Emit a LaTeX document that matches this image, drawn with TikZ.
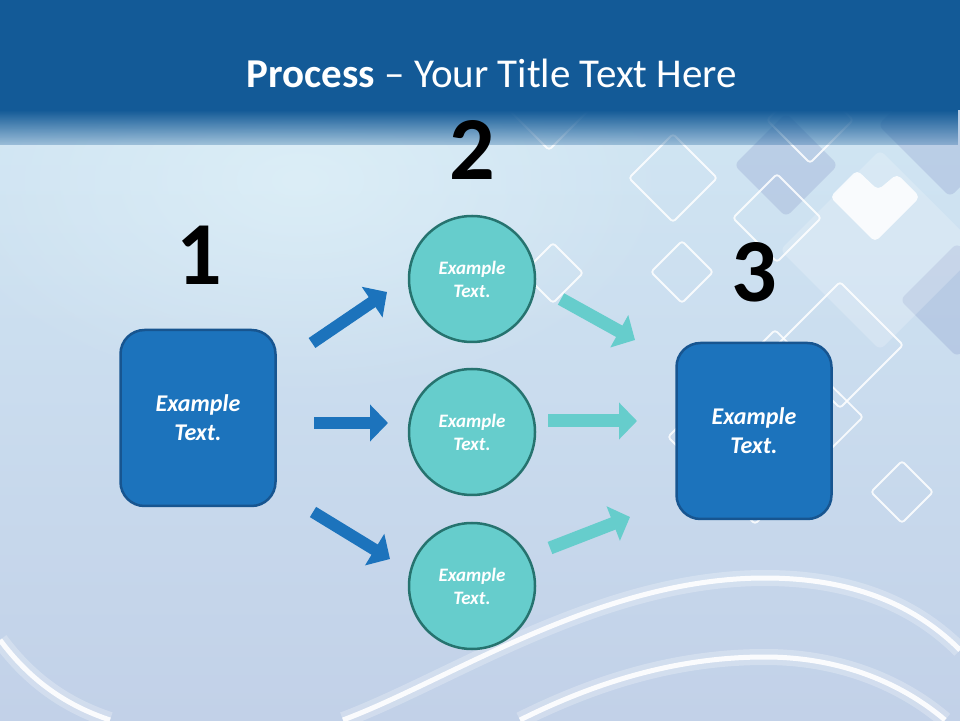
\documentclass[tikz,border=0pt]{standalone}
\usepackage{fontspec}
\setmainfont{Carlito}
\usetikzlibrary{arrows.meta,fadings}

\definecolor{titleblue}{HTML}{135A97}
\definecolor{boxblue}{HTML}{1C73BC}
\definecolor{boxedge}{HTML}{175590}
\definecolor{circfill}{HTML}{66CDCC}
\definecolor{circedge}{HTML}{26736F}
\definecolor{bgtop}{HTML}{D3E9F5}
\definecolor{bgbot}{HTML}{C2D1E8}
\definecolor{glowcol}{HTML}{E4F5FA}
\definecolor{tilecol}{HTML}{8C9DCB}

\tikzfading[name=titlefade, top color=transparent!0, bottom color=transparent!72]
\tikzfading[name=glowfade, inner color=transparent!40, outer color=transparent!100]

\tikzset{
  procbox/.style={draw=boxedge, line width=2.5pt, fill=boxblue, rounded corners=24pt,
    minimum width=155pt, minimum height=176pt, text=white, align=center,
    font=\bfseries\itshape\fontsize{24}{29}\selectfont},
  proccircle/.style={circle, draw=circedge, line width=2.5pt, fill=circfill,
    minimum size=126pt, text=white, align=center,
    font=\bfseries\itshape\fontsize{19}{23}\selectfont},
  stepnum/.style={anchor=base, inner sep=0pt, font=\bfseries\fontsize{90}{90}\selectfont},
  bluearrow/.style={line width=12pt, draw=boxblue, -{Triangle[length=18pt,width=36pt]}},
  tealarrow/.style={line width=13pt, draw=circfill, -{Triangle[length=18pt,width=36pt]}},
  ring/.style={draw=white, line width=1.8pt, rounded corners=3pt, opacity=0.85},
  tile/.style={fill=tilecol, opacity=0.3, rounded corners=6pt},
  wave/.style={draw=white, line width=5pt, opacity=0.9},
  waveglow/.style={draw=white, line width=16pt, opacity=0.25},
}

\begin{document}
\begin{tikzpicture}[x=1pt,y=1pt]
  \useasboundingbox (0,0) rectangle (960,720);

  %% background
  \shade[top color=bgtop, bottom color=bgbot] (0,0) rectangle (960,720);
  \fill[glowcol, path fading=glowfade] (300,540) ellipse (380 and 220);

  %% tiles on the right
  \foreach \x/\y/\h in {786/555/52, 950/595/72, 957/420/57}
    \fill[tile] (\x-\h,\y) -- (\x,\y+\h) -- (\x+\h,\y) -- (\x,\y-\h) -- cycle;
  \fill[white, opacity=0.2, rounded corners=6pt] (780,470) -- (880,570) -- (980,470) -- (880,370) -- cycle;
  \foreach \x/\y/\h in {673/542/44, 777/502/44, 682/448/31, 553/447/30,
                        840/375/63, 902/228/31, 810/600/43, 549/615/45}
    \draw[ring] (\x-\h,\y) -- (\x,\y+\h) -- (\x+\h,\y) -- (\x,\y-\h) -- cycle;
  \draw[ring] (775,390) -- (863,303) -- (755,196) -- (668,283) -- cycle;
  \fill[white, opacity=0.85, rounded corners=5pt]
    (830,523) -- (857,550) -- (878,530) -- (897,546) -- (920,523) -- (875,478) -- cycle;

  %% waves at the bottom
  \draw[waveglow] (343,0) .. controls (450,40) and (600,142) .. (765,142)
    .. controls (860,142) and (920,110) .. (960,70);
  \draw[wave] (343,0) .. controls (450,40) and (600,142) .. (765,142)
    .. controls (860,142) and (920,110) .. (960,70);
  \draw[waveglow] (520,0) .. controls (600,40) and (680,63) .. (765,63)
    .. controls (850,63) and (910,30) .. (945,0);
  \draw[wave] (520,0) .. controls (600,40) and (680,63) .. (765,63)
    .. controls (850,63) and (910,30) .. (945,0);
  \draw[waveglow] (0,80) .. controls (30,40) and (65,15) .. (110,0);
  \draw[wave] (0,80) .. controls (30,40) and (65,15) .. (110,0);

  %% title bar
  \fill[titleblue] (0,610) rectangle (960,720);
  \fill[titleblue, path fading=titlefade] (0,575) rectangle (960,610);
  \node[anchor=base, text=white, font=\fontsize{41}{45}\selectfont] (title) at (492,632)
    {\textbf{Process} – Your Title Text Here};

  %% steps
  \node[procbox] (b1) at (198,302) {Example\\Text.};
  \node[procbox] (b3) at (754,289) {Example\\Text.};
  \node[proccircle] (c1) at (472,441) {Example\\Text.};
  \node[proccircle] (c2) at (472,288) {Example\\Text.};
  \node[proccircle] (c3) at (472,134) {Example\\Text.};

  \node[stepnum] (n1) at (199,435) {1};
  \node[stepnum] (n2) at (472,540) {2};
  \node[stepnum] (n3) at (754,418) {3};

  %% arrow ends
  \coordinate (a1s) at (312,377); \coordinate (a1e) at (387,428);
  \coordinate (a2s) at (314,297); \coordinate (a2e) at (388,297);
  \coordinate (a3s) at (313,208); \coordinate (a3e) at (390,161);
  \coordinate (t1s) at (561,421); \coordinate (t1e) at (635,380);
  \coordinate (t2s) at (548,299); \coordinate (t2e) at (637,299);
  \coordinate (t3s) at (550,172); \coordinate (t3e) at (630,203);

  \draw[bluearrow] (a1s) -- (a1e); %% b1 -> c1
  \draw[bluearrow] (a2s) -- (a2e); %% b1 -> c2
  \draw[bluearrow] (a3s) -- (a3e); %% b1 -> c3
  \draw[tealarrow] (t1s) -- (t1e); %% c1 -> b3
  \draw[tealarrow] (t2s) -- (t2e); %% c2 -> b3
  \draw[tealarrow] (t3s) -- (t3e); %% c3 -> b3
\end{tikzpicture}
\end{document}
